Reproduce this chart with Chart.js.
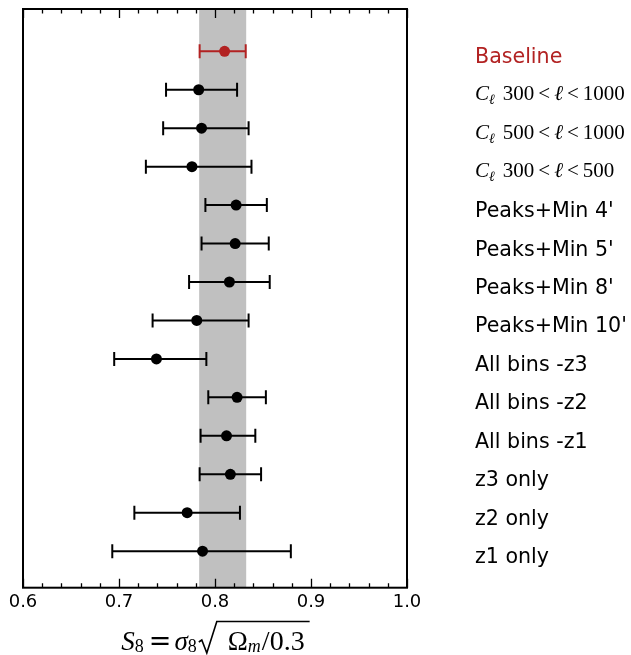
<!DOCTYPE html>
<html>
<head>
<meta charset="utf-8">
<script src="https://cdn.jsdelivr.net/npm/chart.js@4/dist/chart.umd.min.js"></script>
<style>
  body { margin: 0; background: #fff; }
  canvas { display: block; }
</style>
</head>
<body>
<canvas id="myCanvas" width="631" height="655"></canvas>
<script>
// rows, top to bottom
const labels = ['Baseline', 'Cℓ 300<ℓ<1000', 'Cℓ 500<ℓ<1000', 'Cℓ 300<ℓ<500',
  "Peaks+Min 4'", "Peaks+Min 5'", "Peaks+Min 8'", "Peaks+Min 10'",
  'All bins -z3', 'All bins -z2', 'All bins -z1', 'z3 only', 'z2 only', 'z1 only'];
const s8 = [0.810, 0.783, 0.786, 0.776, 0.822, 0.821, 0.815, 0.781, 0.739, 0.823, 0.812, 0.816, 0.771, 0.787];
const s8Low = [0.784, 0.749, 0.746, 0.728, 0.790, 0.786, 0.773, 0.735, 0.695, 0.793, 0.785, 0.784, 0.716, 0.693];
const s8High = [0.832, 0.823, 0.835, 0.838, 0.854, 0.856, 0.857, 0.835, 0.791, 0.853, 0.842, 0.848, 0.826, 0.879];
const band = [0.7835, 0.8325];
const xTicks = [0.6, 0.7, 0.8, 0.9, 1.0];
const minorStep = 0.02;

const red = '#b22222';
const colorOf = i => (i === 0 ? red : '#000');

const errorBars = labels.map((lab, i) => ({
  data: [{x: s8Low[i], y: i}, {x: s8High[i], y: i}],
  showLine: true,
  borderColor: colorOf(i),
  borderWidth: 2,
  pointStyle: 'line',
  pointRotation: 90,
  pointRadius: 7,
  pointBorderWidth: 2,
  pointBorderColor: colorOf(i),
  order: 1
}));

const points = {
  data: labels.map((lab, i) => ({x: s8[i], y: i})),
  pointRadius: 5.5,
  pointBorderWidth: 0,
  pointBackgroundColor: labels.map((lab, i) => colorOf(i)),
  order: 0
};

function drawPieces(ctx, x, y, pieces, dry) {
  for (const p of pieces) {
    if (p.gap !== undefined) { x += p.gap; continue; }
    if (p.fn) { if (!dry) p.fn(ctx, x, y); x += p.w; continue; }
    ctx.font = p.font;
    if (!dry) ctx.fillText(p.t, x, y + (p.dy || 0));
    x += ctx.measureText(p.t).width;
  }
  return x;
}

const serif = '"Liberation Serif", "DejaVu Serif", serif';

function mathLabel(lab) {
  const parts = lab.slice(3).split('<');
  const big = '21px ' + serif, it = 'italic 21px ' + serif;
  return [
    {t: 'C', font: it}, {t: 'ℓ', font: 'italic 14px ' + serif, dy: 4}, {gap: 8},
    {t: parts[0], font: big}, {gap: 4}, {t: '<', font: big}, {gap: 4},
    {t: 'ℓ', font: it}, {gap: 4}, {t: '<', font: big}, {gap: 4},
    {t: parts[2], font: big}
  ];
}

const decor = {
  id: 'decor',
  beforeDatasetsDraw(chart) {
    const {ctx, chartArea: a, scales: {x}} = chart;
    const x0 = x.getPixelForValue(band[0]), x1 = x.getPixelForValue(band[1]);
    ctx.save();
    ctx.fillStyle = '#c0c0c0';
    ctx.fillRect(x0, a.top, x1 - x0, a.bottom - a.top);
    ctx.restore();
  },
  afterDatasetsDraw(chart) {
    const {ctx, chartArea: a, scales: {x, y}} = chart;
    ctx.save();
    ctx.strokeStyle = '#000';
    ctx.lineWidth = 1.3;
    const n = Math.round((x.max - x.min) / minorStep);
    for (let k = 0; k <= n; k++) {
      const v = x.min + k * minorStep;
      const px = Math.round(x.getPixelForValue(v)) + 0.5;
      const major = xTicks.some(t => Math.abs(t - v) < 1e-6);
      const len = major ? 9 : 4.5;
      ctx.beginPath();
      ctx.moveTo(px, a.bottom); ctx.lineTo(px, a.bottom - len);
      ctx.moveTo(px, a.top); ctx.lineTo(px, a.top + len);
      ctx.stroke();
    }
    ctx.lineWidth = 2;
    ctx.strokeRect(a.left, a.top, a.right - a.left, a.bottom - a.top);

    // row labels on the right
    ctx.textBaseline = 'alphabetic';
    ctx.textAlign = 'left';
    const lx = a.right + 68;
    labels.forEach((lab, i) => {
      const py = y.getPixelForValue(i);
      ctx.fillStyle = colorOf(i);
      if (lab.startsWith('Cℓ ')) {
        drawPieces(ctx, lx, py + 10.5, mathLabel(lab));
      } else {
        ctx.font = '20.6px "DejaVu Sans"';
        ctx.fillText(lab, lx, py + 12);
      }
    });

    // x axis title: S8 = sigma8 sqrt(Omega_m/0.3)
    ctx.fillStyle = '#000';
    const big = '27px ' + serif, it = 'italic 27px ' + serif, sub = '18px ' + serif;
    const inner = [{t: 'Ω', font: big}, {t: 'm', font: 'italic 18px ' + serif, dy: 2},
      {gap: 1}, {t: '/0.3', font: '28px ' + serif}];
    const innerW = drawPieces(ctx, 0, 0, inner, true);
    const radical = {w: 18, fn: (c, rx, by) => {
      c.save();
      c.lineWidth = 1.6;
      c.lineJoin = 'miter';
      c.beginPath();
      c.moveTo(rx, by - 8);
      c.lineTo(rx + 3, by - 10);
      c.lineTo(rx + 8, by + 3);
      c.lineTo(rx + 18, by - 28.5);
      c.lineTo(rx + 18 + 11 + innerW + 5, by - 28.5);
      c.stroke();
      c.restore();
    }};
    const pieces = [
      {t: 'S', font: it}, {t: '8', font: sub, dy: 2}, {gap: 5},
      {t: '=', font: '27px "DejaVu Serif"'}, {gap: 3},
      {t: 'σ', font: it}, {t: '8', font: sub, dy: 2}, {gap: 2},
      radical, {gap: 11}
    ].concat(inner);
    const w = drawPieces(ctx, 0, 0, pieces, true);
    drawPieces(ctx, (a.left + a.right) / 2 - w / 2 - 2, 650, pieces);
    ctx.restore();
  }
};

const ctx = document.getElementById('myCanvas').getContext('2d');
new Chart(ctx, {
  type: 'scatter',
  data: {datasets: errorBars.concat([points])},
  options: {
    responsive: false,
    animation: false,
    devicePixelRatio: 1,
    events: [],
    layout: {padding: {left: 23, right: 224, top: 7, bottom: 37.7}},
    plugins: {legend: {display: false}, tooltip: {enabled: false}},
    scales: {
      x: {
        type: 'linear',
        min: 0.6,
        max: 1.0,
        afterBuildTicks: scale => { scale.ticks = xTicks.map(v => ({value: v})); },
        ticks: {
          color: '#000',
          font: {family: 'DejaVu Sans', size: 18},
          padding: 4,
          callback: v => v.toFixed(1)
        },
        grid: {display: false, drawTicks: false},
        border: {display: false}
      },
      y: {
        type: 'linear',
        min: -1.1,
        max: 13.95,
        reverse: true,
        display: false
      }
    }
  },
  plugins: [decor]
});
</script>
</body>
</html>
